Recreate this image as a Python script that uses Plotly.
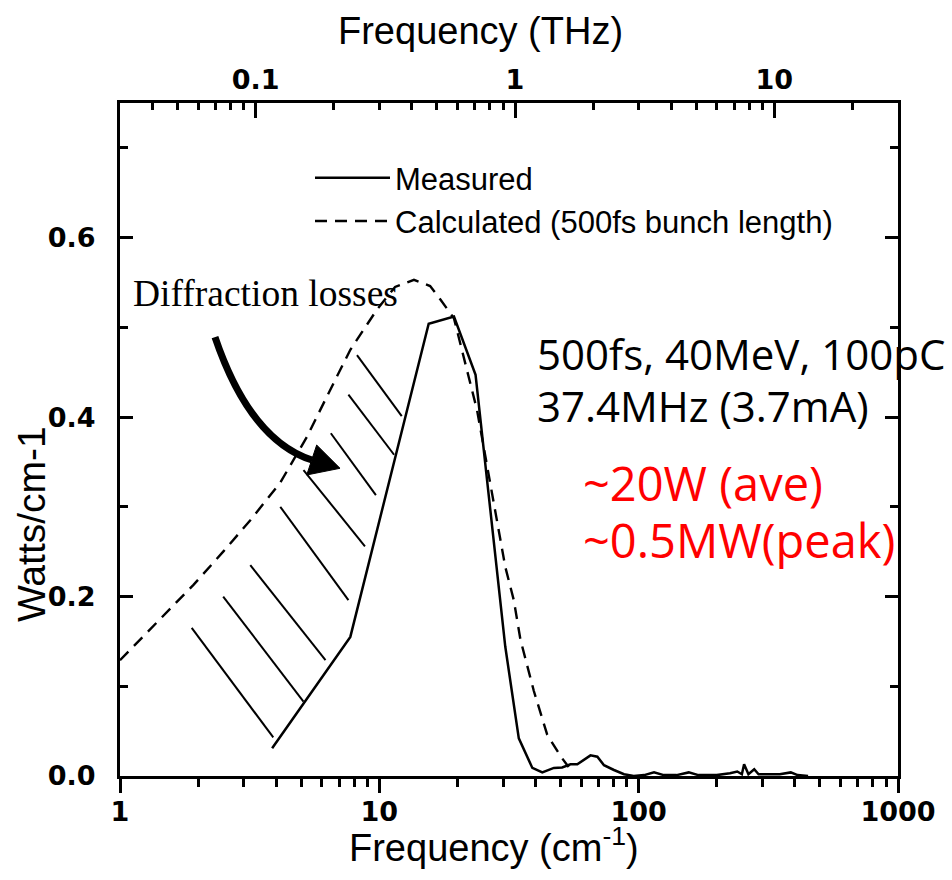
import math
import plotly.graph_objects as go

# Measured spectrum (frequency in cm^-1, power density in W/cm^-1)
meas_wn = [3.86, 7.73, 15.5, 19.4, 23.5, 26.1, 30.6, 34.5, 38.9, 42.5, 47.1, 50.7,
           54.6, 58.0, 65.2, 69.3, 73.5, 80.3, 87.8, 95.7, 105, 114.6, 125, 140,
           156, 170, 200, 225, 240, 250, 255, 265, 279, 290, 320, 350, 386, 410, 450]
meas_pw = [0.031, 0.155, 0.504, 0.512, 0.447, 0.326, 0.144, 0.042, 0.009, 0.004, 0.009, 0.0095,
           0.013, 0.013, 0.023, 0.0215, 0.012, 0.0067, 0.002, 0.0, 0.001, 0.004, 0.001, 0.001,
           0.004, 0.001, 0.001, 0.003, 0.005, 0.002, 0.013, 0.002, 0.0075, 0.002, 0.002, 0.002, 0.004, 0.001, 0.0]

# Calculated spectrum for a 500 fs bunch
calc_wn = [1.0, 1.5, 1.92, 2.5, 3.18, 4.15, 5.26, 6.28, 7.73, 9.8, 11.5, 13.6,
           15.7, 17.2, 19.4, 23.8, 26.8, 30.6, 33.0, 35.0, 39.4, 44.4, 50.0, 53.7]
calc_pw = [0.129, 0.181, 0.213, 0.250, 0.285, 0.327, 0.378, 0.423, 0.475, 0.520, 0.545, 0.553,
           0.546, 0.531, 0.510, 0.408, 0.326, 0.233, 0.196, 0.152, 0.095, 0.046, 0.022, 0.010]

# Hatching of the diffraction-loss region: (x0, y0, x1, y1) in data units
hatch = [(8.2, 0.469, 12.2, 0.401),
         (7.6, 0.425, 11.4, 0.358),
         (6.5, 0.382, 9.7, 0.313),
         (5.1, 0.341, 8.8, 0.256),
         (4.15, 0.300, 7.6, 0.196),
         (3.18, 0.235, 6.2, 0.129),
         (2.5, 0.200, 5.1, 0.083),
         (1.89, 0.165, 3.9, 0.043)]

# Axis ticks
x_major = [1, 10, 100, 1000]
x_minor = [m * d for d in (1, 10, 100) for m in range(2, 10)]
thz_major = [0.1, 1, 10]
thz_minor = [0.04, 0.05, 0.06, 0.07, 0.08, 0.09] + [m / 10 for m in range(2, 10)] + list(range(2, 10)) + [20, 30]
y_major = [0.0, 0.2, 0.4, 0.6]
y_minor = [0.1, 0.3, 0.5, 0.7]

CM_PER_THZ = 33.356
X_RANGE = [1, 1000]
Y_RANGE = [0, 0.75]

fig = go.Figure()
fig.add_trace(go.Scatter(x=meas_wn, y=meas_pw, mode="lines", name="Measured",
                         line=dict(color="black", width=2.5)))
fig.add_trace(go.Scatter(x=calc_wn, y=calc_pw, mode="lines", name="Calculated (500fs bunch length)",
                         line=dict(color="black", width=2.4, dash="12px,8px")))

for x0, y0, x1, y1 in hatch:
    fig.add_shape(type="line", xref="x", yref="y", x0=x0, y0=y0, x1=x1, y1=y1,
                  line=dict(color="black", width=2))

# Curved arrow pointing into the loss region (paper coordinates)
fig.add_shape(type="path", xref="paper", yref="paper",
              path="M 0.1221,0.6523 Q 0.1671,0.4993 0.2468,0.4695",
              line=dict(color="black", width=7))
fig.add_shape(type="path", xref="paper", yref="paper",
              path="M 0.2528,0.4918 L 0.2400,0.4473 L 0.2828,0.4572 Z",
              line=dict(color="black", width=1), fillcolor="black")

sans = "Liberation Sans, Arial, sans-serif"
tickfont = dict(family="DejaVu Sans, sans-serif", size=27, color="black", weight=700)

fig.update_layout(
    width=952, height=880,
    margin=dict(l=120, r=54, t=103, b=104),
    paper_bgcolor="white", plot_bgcolor="white",
    showlegend=True,
    legend=dict(x=(310 - 120) / 778, y=(776 - 151) / 673, xanchor="left", yanchor="top",
                bgcolor="rgba(0,0,0,0)", itemwidth=75,
                font=dict(family=sans, size=31, color="black")),
    xaxis=dict(type="log", range=[math.log10(X_RANGE[0]), math.log10(X_RANGE[1])],
               showline=True, linecolor="black", linewidth=3, mirror=False,
               showgrid=False, zeroline=False,
               tickmode="array", tickvals=x_major, ticktext=[str(v) for v in x_major],
               ticks="outside", ticklen=14, tickwidth=2.5, tickcolor="black",
               tickfont=tickfont, ticklabelstandoff=-4,
               minor=dict(tickmode="array", tickvals=x_minor, ticks="outside",
                          ticklen=8, tickwidth=2.5, tickcolor="black", showgrid=False)),
    xaxis2=dict(type="log", overlaying="x", side="top", anchor="y",
                range=[math.log10(X_RANGE[0] / CM_PER_THZ), math.log10(X_RANGE[1] / CM_PER_THZ)],
                showline=True, linecolor="black", linewidth=3,
                showgrid=False, zeroline=False,
                tickmode="array", tickvals=thz_major, ticktext=["0.1", "1", "10"],
                ticks="inside", ticklen=15, tickwidth=2.5, tickcolor="black",
                tickfont=tickfont, ticklabelstandoff=0,
                minor=dict(tickmode="array", tickvals=thz_minor, ticks="inside",
                           ticklen=7, tickwidth=2.5, tickcolor="black", showgrid=False)),
    yaxis=dict(range=Y_RANGE, showline=True, linecolor="black", linewidth=3, mirror="ticks",
               showgrid=False, zeroline=False,
               tickmode="array", tickvals=y_major, ticktext=["%.1f" % v for v in y_major],
               ticks="inside", ticklen=13, tickwidth=2.5, tickcolor="black",
               tickfont=tickfont, ticklabelstandoff=16,
               minor=dict(tickmode="array", tickvals=y_minor, ticks="inside",
                          ticklen=8, tickwidth=2.5, tickcolor="black", showgrid=False)),
)

# Keep the top axis drawn with a transparent copy of the measured curve
fig.add_trace(go.Scatter(x=[v / CM_PER_THZ for v in meas_wn], y=meas_pw, xaxis="x2",
                         mode="lines", line=dict(color="rgba(0,0,0,0)"),
                         showlegend=False, hoverinfo="skip"))

title_font = dict(family=sans, size=38, color="black")
calibri = "Open Sans, Lato, sans-serif"
notes = [
    dict(text="Frequency (THz)", x=(480 - 120) / 778, y=(776 - 31) / 673,
         xanchor="center", yanchor="middle", font=title_font),
    dict(text="Frequency (cm<sup>-1</sup>)", x=(494 - 120) / 778, y=(776 - 845) / 673,
         xanchor="center", yanchor="middle", font=title_font),
    dict(text="Watts/cm-1", x=(31 - 120) / 778, y=(776 - 524) / 673, textangle=-90,
         xanchor="center", yanchor="middle", font=dict(family=sans, size=39, color="black")),
    dict(text="Diffraction losses", x=(131 - 120) / 778, y=(776 - 293) / 673,
         xanchor="left", yanchor="middle",
         font=dict(family="Liberation Serif, Times New Roman, serif", size=37.5, color="black")),
    dict(text="500fs, 40MeV, 100pC", x=(535 - 120) / 778, y=(776 - 353) / 673,
         xanchor="left", yanchor="middle", font=dict(family=calibri, size=42, color="black")),
    dict(text="37.4MHz (3.7mA)", x=(535 - 120) / 778, y=(776 - 405) / 673,
         xanchor="left", yanchor="middle", font=dict(family=calibri, size=42, color="black")),
    dict(text="~20W (ave)", x=(581 - 120) / 778, y=(776 - 483) / 673,
         xanchor="left", yanchor="middle", font=dict(family=calibri, size=47, color="red")),
    dict(text="~0.5MW(peak)", x=(581 - 120) / 778, y=(776 - 540) / 673,
         xanchor="left", yanchor="middle", font=dict(family=calibri, size=47, color="red")),
]
for n in notes:
    fig.add_annotation(xref="paper", yref="paper", showarrow=False, **n)

fig.write_html("out.html")
